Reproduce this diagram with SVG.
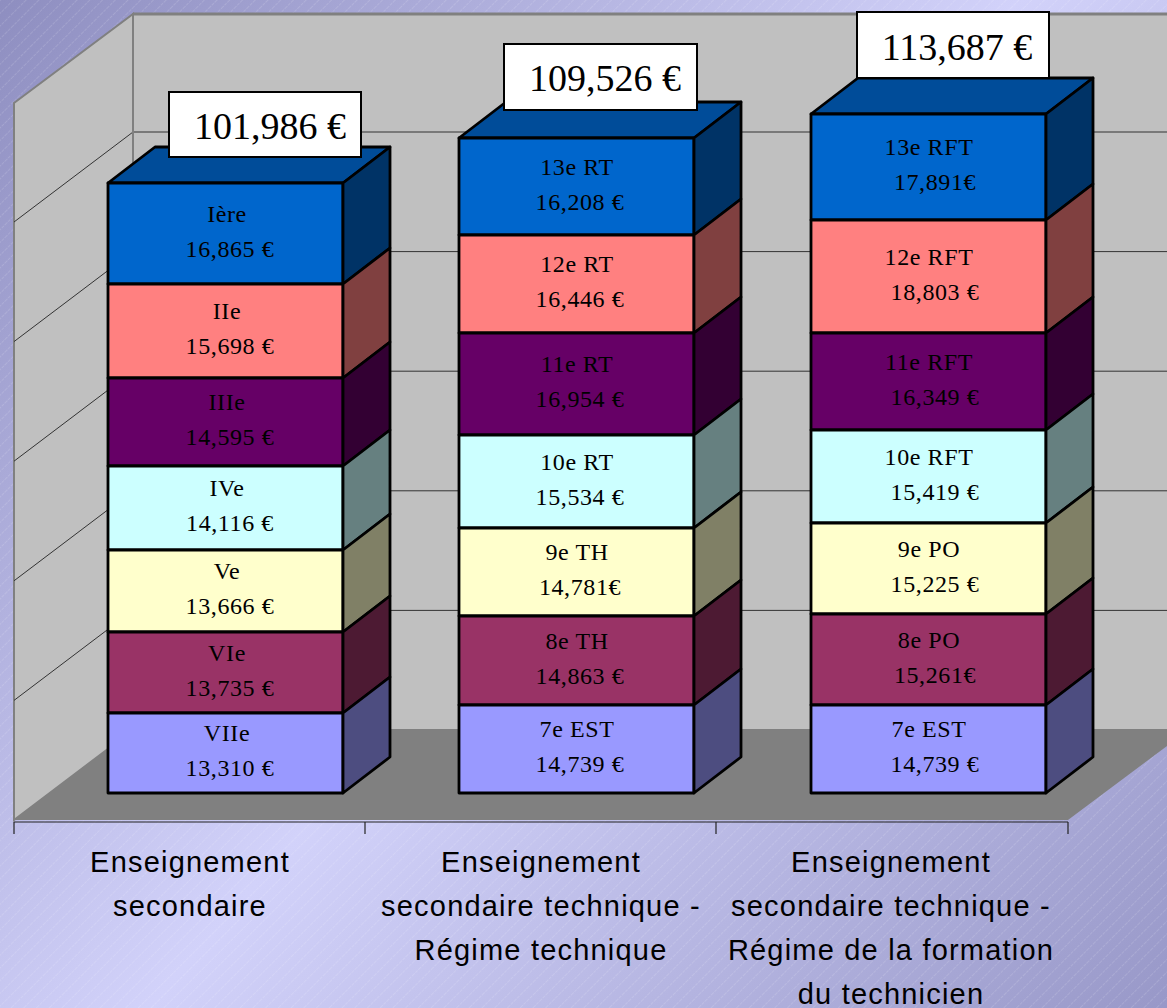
<svg xmlns="http://www.w3.org/2000/svg" width="1167" height="1008" viewBox="0 0 1167 1008">
<defs>
<linearGradient id="bg" gradientUnits="userSpaceOnUse" x1="0" y1="0" x2="1167" y2="1008">
<stop offset="0" stop-color="#8e8ec0"/>
<stop offset="0.5" stop-color="#d2d2fa"/>
<stop offset="1" stop-color="#9898c8"/>
</linearGradient>
<pattern id="stripes" patternUnits="userSpaceOnUse" width="9" height="9" patternTransform="rotate(45)">
<line x1="0" y1="0" x2="0" y2="9" stroke="#ffffff" stroke-width="0.8" stroke-opacity="0.35" stroke-dasharray="3 1"/>
</pattern>
<style>
.wall{fill:#c0c0c0;stroke:#808080;stroke-width:2}
.grid{stroke:#333;stroke-width:1;fill:none}
.f{stroke:#000;stroke-width:2.8;stroke-linejoin:round}
.seg{font-family:"Liberation Serif","Times New Roman",serif;font-size:24px;letter-spacing:0.6px;text-anchor:middle;fill:#000}
.tot{font-family:"Liberation Serif","Times New Roman",serif;font-size:38px;text-anchor:middle;fill:#000}
.box{fill:#fff;stroke:#000;stroke-width:2}
.cat{font-family:"Liberation Sans",Arial,sans-serif;font-size:29px;letter-spacing:1.2px;text-anchor:middle;fill:#000}
.c1{fill:#0066cc}.s1{fill:#003366}
.c2{fill:#ff8080}.s2{fill:#804040}
.c3{fill:#660066}.s3{fill:#330033}
.c4{fill:#ccffff}.s4{fill:#668080}
.c5{fill:#ffffcc}.s5{fill:#808066}
.c6{fill:#993366}.s6{fill:#4d1a33}
.c7{fill:#9999ff}.s7{fill:#4d4d80}
.top{fill:#004c99}
</style>
</defs>
<rect x="0" y="0" width="1167" height="1008" fill="url(#bg)"/>
<rect x="0" y="0" width="1167" height="1008" fill="url(#stripes)"/>

<g id="chart-area">
<rect class="wall" x="133" y="14" width="1040" height="716"/>
<polygon class="wall" points="14,103 133,14 133,730 14,820"/>
<polygon points="14,820 133,730 1167,730 1167,746 1068,820" fill="#808080"/>
<g id="gridlines">
<line class="grid" x1="133" y1="610.4" x2="1167" y2="610.4"/>
<line class="grid" x1="133" y1="490.8" x2="1167" y2="490.8"/>
<line class="grid" x1="133" y1="371.2" x2="1167" y2="371.2"/>
<line class="grid" x1="133" y1="251.6" x2="1167" y2="251.6"/>
<line class="grid" x1="133" y1="132" x2="1167" y2="132"/>
<line class="grid" x1="133" y1="610.4" x2="14" y2="700.4"/>
<line class="grid" x1="133" y1="490.8" x2="14" y2="580.8"/>
<line class="grid" x1="133" y1="371.2" x2="14" y2="461.2"/>
<line class="grid" x1="133" y1="251.6" x2="14" y2="341.6"/>
<line class="grid" x1="133" y1="132" x2="14" y2="222"/>
</g>
<line x1="133" y1="14" x2="133" y2="730" stroke="#808080" stroke-width="2"/>
<line x1="133" y1="14" x2="1167" y2="14" stroke="#808080" stroke-width="3"/>
</g>

<g id="connectors">
<line x1="14" y1="822" x2="1068" y2="822" stroke="#222" stroke-width="1.2"/>
<line x1="14" y1="822" x2="14" y2="834" stroke="#222" stroke-width="1.2"/>
<line x1="365" y1="822" x2="365" y2="834" stroke="#222" stroke-width="1.2"/>
<line x1="716" y1="822" x2="716" y2="834" stroke="#222" stroke-width="1.2"/>
<line x1="1068" y1="822" x2="1068" y2="834" stroke="#222" stroke-width="1.2"/>
</g>

<g id="bar-secondaire">
<polygon class="f top" points="108,183 155,147 390,147 343,183"/>
<rect class="f c1" x="108" y="183" width="235" height="101"/><polygon class="f s1" points="343,183 390,147 390,248 343,284"/>
<rect class="f c2" x="108" y="284" width="235" height="94"/><polygon class="f s2" points="343,284 390,248 390,342 343,378"/>
<rect class="f c3" x="108" y="378" width="235" height="88"/><polygon class="f s3" points="343,378 390,342 390,430 343,466"/>
<rect class="f c4" x="108" y="466" width="235" height="84"/><polygon class="f s4" points="343,466 390,430 390,514 343,550"/>
<rect class="f c5" x="108" y="550" width="235" height="82"/><polygon class="f s5" points="343,550 390,514 390,596 343,632"/>
<rect class="f c6" x="108" y="632" width="235" height="81"/><polygon class="f s6" points="343,632 390,596 390,677 343,713"/>
<rect class="f c7" x="108" y="713" width="235" height="80"/><polygon class="f s7" points="343,713 390,677 390,757 343,793"/>
<text class="seg" x="227" y="221.5">Ière</text><text class="seg" x="230" y="256.5">16,865 €</text>
<text class="seg" x="227" y="319">IIe</text><text class="seg" x="230" y="354">15,698 €</text>
<text class="seg" x="227" y="410">IIIe</text><text class="seg" x="230" y="445">14,595 €</text>
<text class="seg" x="227" y="496">IVe</text><text class="seg" x="230" y="531">14,116 €</text>
<text class="seg" x="227" y="579">Ve</text><text class="seg" x="230" y="614">13,666 €</text>
<text class="seg" x="227" y="660.5">VIe</text><text class="seg" x="230" y="695.5">13,735 €</text>
<text class="seg" x="227" y="741">VIIe</text><text class="seg" x="230" y="776">13,310 €</text>
</g>

<g id="bar-technique">
<polygon class="f top" points="459,138 506,102 741,102 694,138"/>
<rect class="f c1" x="459" y="138" width="235" height="97"/><polygon class="f s1" points="694,138 741,102 741,199 694,235"/>
<rect class="f c2" x="459" y="235" width="235" height="98"/><polygon class="f s2" points="694,235 741,199 741,297 694,333"/>
<rect class="f c3" x="459" y="333" width="235" height="102"/><polygon class="f s3" points="694,333 741,297 741,399 694,435"/>
<rect class="f c4" x="459" y="435" width="235" height="93"/><polygon class="f s4" points="694,435 741,399 741,492 694,528"/>
<rect class="f c5" x="459" y="528" width="235" height="88"/><polygon class="f s5" points="694,528 741,492 741,580 694,616"/>
<rect class="f c6" x="459" y="616" width="235" height="89"/><polygon class="f s6" points="694,616 741,580 741,669 694,705"/>
<rect class="f c7" x="459" y="705" width="235" height="88"/><polygon class="f s7" points="694,705 741,669 741,757 694,793"/>
<text class="seg" x="577" y="174.5">13e RT</text><text class="seg" x="580" y="209.5">16,208 €</text>
<text class="seg" x="577" y="272">12e RT</text><text class="seg" x="580" y="307">16,446 €</text>
<text class="seg" x="577" y="372">11e RT</text><text class="seg" x="580" y="407">16,954 €</text>
<text class="seg" x="577" y="469.5">10e RT</text><text class="seg" x="580" y="504.5">15,534 €</text>
<text class="seg" x="577" y="560">9e TH</text><text class="seg" x="580" y="595">14,781€</text>
<text class="seg" x="577" y="648.5">8e TH</text><text class="seg" x="580" y="683.5">14,863 €</text>
<text class="seg" x="577" y="737">7e EST</text><text class="seg" x="580" y="772">14,739 €</text>
</g>

<g id="bar-formation-technicien">
<polygon class="f top" points="811,114 858,78 1093,78 1046,114"/>
<rect class="f c1" x="811" y="114" width="235" height="106"/><polygon class="f s1" points="1046,114 1093,78 1093,184 1046,220"/>
<rect class="f c2" x="811" y="220" width="235" height="113"/><polygon class="f s2" points="1046,220 1093,184 1093,297 1046,333"/>
<rect class="f c3" x="811" y="333" width="235" height="97"/><polygon class="f s3" points="1046,333 1093,297 1093,394 1046,430"/>
<rect class="f c4" x="811" y="430" width="235" height="93"/><polygon class="f s4" points="1046,430 1093,394 1093,487 1046,523"/>
<rect class="f c5" x="811" y="523" width="235" height="91"/><polygon class="f s5" points="1046,523 1093,487 1093,578 1046,614"/>
<rect class="f c6" x="811" y="614" width="235" height="91"/><polygon class="f s6" points="1046,614 1093,578 1093,669 1046,705"/>
<rect class="f c7" x="811" y="705" width="235" height="88"/><polygon class="f s7" points="1046,705 1093,669 1093,757 1046,793"/>
<text class="seg" x="929" y="155">13e RFT</text><text class="seg" x="935" y="190">17,891€</text>
<text class="seg" x="929" y="264.5">12e RFT</text><text class="seg" x="935" y="299.5">18,803 €</text>
<text class="seg" x="929" y="369.5">11e RFT</text><text class="seg" x="935" y="404.5">16,349 €</text>
<text class="seg" x="929" y="464.5">10e RFT</text><text class="seg" x="935" y="499.5">15,419 €</text>
<text class="seg" x="929" y="556.5">9e PO</text><text class="seg" x="935" y="591.5">15,225 €</text>
<text class="seg" x="929" y="647.5">8e PO</text><text class="seg" x="935" y="682.5">15,261€</text>
<text class="seg" x="929" y="737">7e EST</text><text class="seg" x="935" y="772">14,739 €</text>
</g>

<g id="total-1"><rect class="box" x="169" y="92" width="192" height="65"/><text class="tot" x="270" y="139">101,986 €</text></g>
<g id="total-2"><rect class="box" x="504" y="44" width="193" height="66"/><text class="tot" x="605" y="91">109,526 €</text></g>
<g id="total-3"><rect class="box" x="857" y="12" width="192" height="66"/><text class="tot" x="957" y="60">113,687 €</text></g>

<g id="category-1"><text class="cat" x="190" y="872">Enseignement</text><text class="cat" x="190" y="916">secondaire</text></g>
<g id="category-2"><text class="cat" x="541" y="872">Enseignement</text><text class="cat" x="541" y="916">secondaire technique -</text><text class="cat" x="541" y="960">Régime technique</text></g>
<g id="category-3"><text class="cat" x="891" y="872">Enseignement</text><text class="cat" x="891" y="916">secondaire technique -</text><text class="cat" x="891" y="960">Régime de la formation</text><text class="cat" x="891" y="1004">du technicien</text></g>
</svg>
